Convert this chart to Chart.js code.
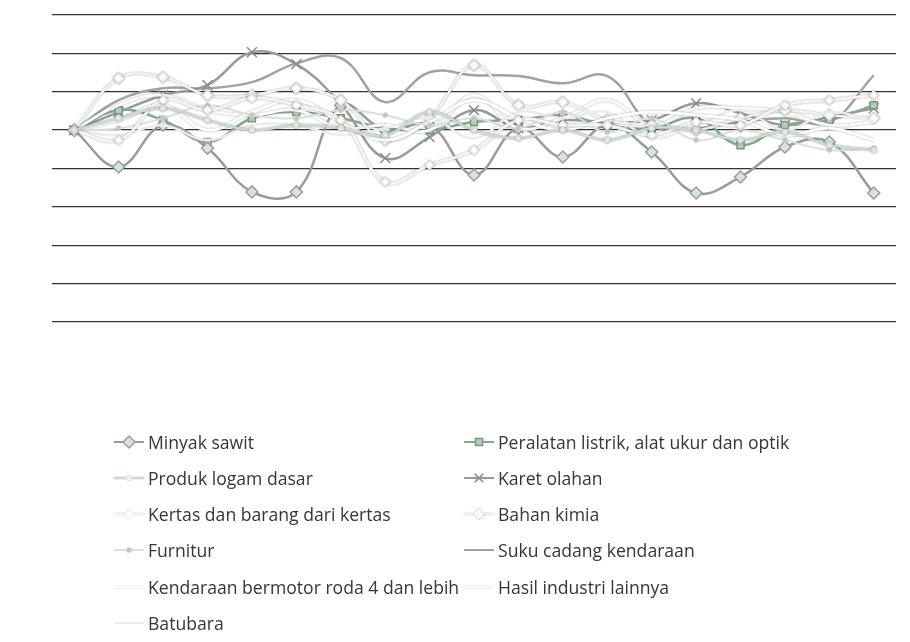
<!DOCTYPE html>
<html>
<head>
<meta charset="utf-8">
<script src="https://cdn.jsdelivr.net/npm/chart.js@4.4.1/dist/chart.umd.min.js"></script>
<style>
  html, body { margin: 0; padding: 0; background: #fff; width: 910px; height: 642px; overflow: hidden; }
  #wrap { position: absolute; left: 0; top: 0; width: 910px; height: 340px; }
  #legend { position: absolute; left: 0; top: 0; width: 910px; height: 642px; pointer-events: none;
            font-family: "Open Sans", sans-serif; font-size: 17.6px; color: #363636; }
  .item { position: absolute; height: 26px; display: flex; align-items: center; white-space: nowrap; }
  .item canvas { display: block; margin-right: 2px; }
</style>
</head>
<body>
<div id="wrap"><canvas id="chart"></canvas></div>
<div id="legend"></div>
<script>
// Periods on the horizontal axis (labels are not printed on the chart)
const periods = ['P1','P2','P3','P4','P5','P6','P7','P8','P9','P10',
                 'P11','P12','P13','P14','P15','P16','P17','P18','P19'];

// Value axis range and grid step
const yMin = -50, yMax = 30, yStep = 10;

// Series values per commodity
const minyakSawit   = [0,-9.6,1.3,-4.7,-16.1,-16.1,6.5,0,1.3,-11.7,0.5,-7.0,1.3,-5.7,-16.4,-12.2,-4.4,-3.1,-16.4];
const produkLogam   = [0,3.1,5.7,2.6,0,1.3,0.5,-1.3,4.7,0,-2.1,0,-2.6,0.5,0,-2.6,-0.5,-3.9,-5.2];
const kertas        = [0,-2.6,7.8,5.2,8.3,6.5,2.6,-13.5,-9.1,-5.2,2.6,1.3,1.3,-1.3,2.1,1.3,6.5,7.8,9.1];
const furnitur      = [0,0.5,3.1,6.5,3.9,3.1,5.2,3.9,1.3,3.1,0.5,4.7,-0.5,3.1,-2.6,0,-2.6,-5.2,-4.7];
const kendaraan     = [0,2.6,6.5,0,4.7,7.8,2.1,-2.6,2.1,7.8,3.1,0,3.1,4.7,3.9,2.6,-1.3,0.5,-2.6];
const batubara      = [0,-1.3,1.3,-2.6,1.3,1.3,-1.3,0.5,3.1,-2.1,4.7,3.1,4.7,-2.1,1.3,5.2,0,4.7,2.1];
const peralatan     = [0,5.2,2.6,-3.1,3.1,4.7,3.1,0.5,0,2.1,2.6,3.9,1.3,0.5,3.1,-3.9,1.3,2.6,6.5];
const karetOlahan   = [0,4.7,9.1,11.7,20.3,17.2,6.8,-7.3,-1.8,5.2,0.5,2.6,2.1,2.6,7.0,4.4,1.3,3.4,5.7];
const bahanKimia    = [0,13.5,13.8,9.1,9.1,10.9,7.8,-2.6,3.1,16.9,6.5,7.3,2.6,1.3,0,3.1,5.2,3.9,3.1];
const sukuCadang    = [0,7.8,10.9,10.9,12.5,17.4,18.8,7.3,15.1,14.3,14.1,12.2,14.1,1.3,0.5,2.1,3.1,2.1,14.3];
const hasilLainnya  = [0,6.5,9.1,5.2,3.9,5.2,0.5,1.3,0,9.1,0.5,3.1,7.8,1.3,5.7,5.7,4.7,1.3,2.1];

function series(label, data, line, width, pt, extra) {
  return Object.assign({
    label, data,
    borderColor: line, borderWidth: width,
    pointStyle: pt ? pt.style : false,
    pointRadius: pt ? pt.r : 0,
    pointBackgroundColor: pt ? pt.bg : line,
    pointBorderColor: pt ? pt.border : line,
    pointBorderWidth: pt ? pt.bw : 1,
    tension: 0.4, fill: false, order: 1
  }, extra || {});
}

const datasets = [
  series('Minyak sawit', minyakSawit, '#9b9b9b', 2.5, {style:'rectRot', r:6, bg:'#d3e7d7', border:'#9c9c9c', bw:1.5}),
  series('Produk logam dasar', produkLogam, '#c9dccd', 2.5, {style:'circle', r:3, bg:'#eef4ef', border:'#d9e3db', bw:1}, {order:0, halo:true}),
  series('Kertas dan barang dari kertas', kertas, '#f4f4f4', 3, {style:'rectRot', r:5, bg:'#ffffff', border:'#e2e2e2', bw:1}, {order:0, halo:true}),
  series('Furnitur', furnitur, '#d9dfda', 2, {style:'circle', r:2.5, bg:'#c4c4c4', border:'#d0d0d0', bw:1}, {order:0}),
  series('Kendaraan bermotor roda 4 dan lebih', kendaraan, '#ffffff', 3, null, {order:0, halo:true}),
  series('Batubara', batubara, '#ececec', 2.5, null, {order:0}),
  series('Peralatan listrik, alat ukur dan optik', peralatan, '#86a98f', 2.5, {style:'rect', r:5, bg:'#b3cdb9', border:'#7b977f', bw:1.5}),
  series('Karet olahan', karetOlahan, '#999999', 2.5, {style:'crossRot', r:7, bg:'#999999', border:'#8a8a8a', bw:1.5}),
  series('Bahan kimia', bahanKimia, '#f2f2f2', 2.5, {style:'rectRot', r:6, bg:'#fbfbfb', border:'#d8d8d8', bw:1}, {order:0, halo:true}),
  series('Suku cadang kendaraan', sukuCadang, '#a2a2a2', 2.5, null),
  series('Hasil industri lainnya', hasilLainnya, '#fafafa', 3, null, {order:0, halo:true})
];

// soft grey edge around the pale series
const haloPlugin = {
  id: 'halo',
  beforeDatasetDraw(chart, args) {
    const ds = chart.data.datasets[args.index];
    chart.ctx.save();
    if (ds.halo) {
      chart.ctx.shadowColor = 'rgba(0,0,0,0.35)';
      chart.ctx.shadowBlur = 2;
    }
  },
  afterDatasetDraw(chart) { chart.ctx.restore(); }
};

const chart = new Chart(document.getElementById('chart'), {
  type: 'line',
  data: { labels: periods, datasets },
  options: {
    responsive: true, maintainAspectRatio: false, animation: false,
    layout: { padding: { left: 52, right: 14, top: 15, bottom: 18 } },
    plugins: { legend: { display: false }, tooltip: { enabled: false } },
    scales: {
      x: { display: false, offset: true },
      y: {
        min: yMin, max: yMax,
        ticks: { display: false, stepSize: yStep },
        border: { display: false },
        grid: { color: '#333333', lineWidth: 1.3, drawTicks: false }
      }
    }
  },
  plugins: [haloPlugin]
});

// two-column legend under the plot
const legendCols = [
  { iconX: 112, rows: [0, 1, 2, 3, 4, 5] },
  { iconX: 462, rows: [6, 7, 8, 9, 10] }
];
const rowY = [442, 478, 514, 550, 587, 623];
const legendEl = document.getElementById('legend');

function drawIcon(cv, ds) {
  const c = cv.getContext('2d');
  const w = cv.width, h = cv.height, my = h / 2;
  c.save();
  if (ds.halo) { c.shadowColor = 'rgba(0,0,0,0.3)'; c.shadowBlur = 1.5; }
  c.strokeStyle = ds.borderColor; c.lineWidth = Math.min(ds.borderWidth, 2);
  c.beginPath(); c.moveTo(2, my); c.lineTo(w - 2, my); c.stroke();
  c.restore();
  if (ds.pointStyle) {
    c.fillStyle = ds.pointBackgroundColor; c.strokeStyle = ds.pointBorderColor;
    c.lineWidth = ds.pointBorderWidth;
    Chart.helpers.drawPoint(c, {
      pointStyle: ds.pointStyle, radius: Math.min(ds.pointRadius, 6), borderWidth: ds.pointBorderWidth, rotation: 0
    }, w / 2, my);
  }
}

legendCols.forEach(col => {
  col.rows.forEach((dsIndex, r) => {
    const ds = datasets[dsIndex];
    const item = document.createElement('div');
    item.className = 'item';
    item.style.left = col.iconX + 'px';
    item.style.top = (rowY[r] - 13) + 'px';
    const cv = document.createElement('canvas');
    cv.width = 34; cv.height = 20;
    item.appendChild(cv);
    const span = document.createElement('span');
    span.textContent = ds.label;
    item.appendChild(span);
    legendEl.appendChild(item);
    drawIcon(cv, ds);
  });
});
</script>
</body>
</html>
